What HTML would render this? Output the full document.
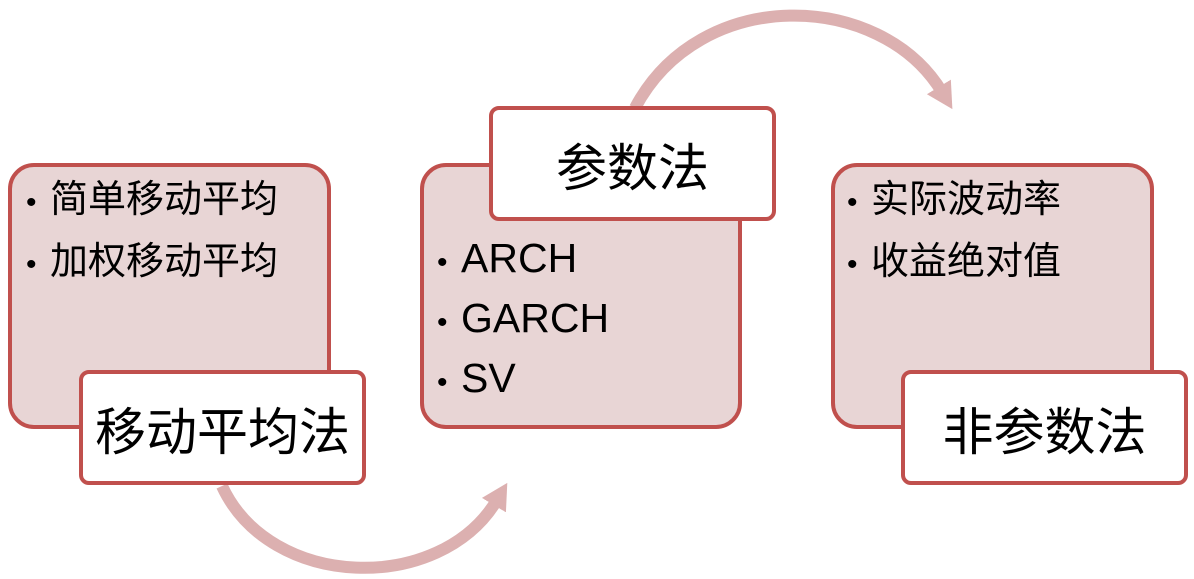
<!DOCTYPE html>
<html><head><meta charset="utf-8"><style>
body{margin:0;width:1194px;height:579px;background:#fff;position:relative;overflow:hidden;font-family:"Liberation Sans","Noto Sans CJK SC",sans-serif}
.big{position:absolute;background:#e8d5d5;border:4px solid #c0504d;border-radius:26px;box-sizing:border-box}
.lab{position:absolute;background:#fff;border:4px solid #c0504d;border-radius:10px;box-sizing:border-box;display:flex;align-items:center;justify-content:center;font-size:51px;color:#000}
.b{position:absolute;font-size:38px;line-height:50px;color:#000;white-space:nowrap}
.b i{font-style:normal;display:inline-block;width:24px;font-size:30px}
svg{position:absolute;left:0;top:0}
</style></head><body>
<svg width="1194" height="579">
<defs><marker id="m" markerUnits="userSpaceOnUse" markerWidth="28" markerHeight="28" refX="6" refY="14" orient="auto"><path d="M0,0 L26,14 L0,28 Z" fill="#dcb0b0"/></marker></defs>
<path d="M222 486 C270 590, 440 595, 497 500" stroke="#dcb0b0" stroke-width="12" fill="none" marker-end="url(#m)"/>
<path d="M635 108 C700 -15, 880 -10, 942 92" stroke="#dcb0b0" stroke-width="12" fill="none" marker-end="url(#m)"/>
</svg>
<div class="big" style="left:8px;top:163px;width:323px;height:266px"></div>
<div class="big" style="left:420px;top:163px;width:322px;height:266px"></div>
<div class="big" style="left:831px;top:163px;width:323px;height:266px"></div>
<div class="lab" style="left:79px;top:370px;width:287px;height:115px">移动平均法</div>
<div class="lab" style="left:489px;top:106px;width:287px;height:115px">参数法</div>
<div class="lab" style="left:901px;top:370px;width:287px;height:115px">非参数法</div>
<div class="b" style="left:26px;top:175px"><i>•</i>简单移动平均</div>
<div class="b" style="left:26px;top:237px"><i>•</i>加权移动平均</div>
<div class="b" style="left:437px;top:233px;font-size:41px"><i>•</i>ARCH</div>
<div class="b" style="left:437px;top:293px;font-size:41px"><i>•</i>GARCH</div>
<div class="b" style="left:437px;top:353px;font-size:41px"><i>•</i>SV</div>
<div class="b" style="left:847px;top:175px"><i>•</i>实际波动率</div>
<div class="b" style="left:847px;top:237px"><i>•</i>收益绝对值</div>
</body></html>
